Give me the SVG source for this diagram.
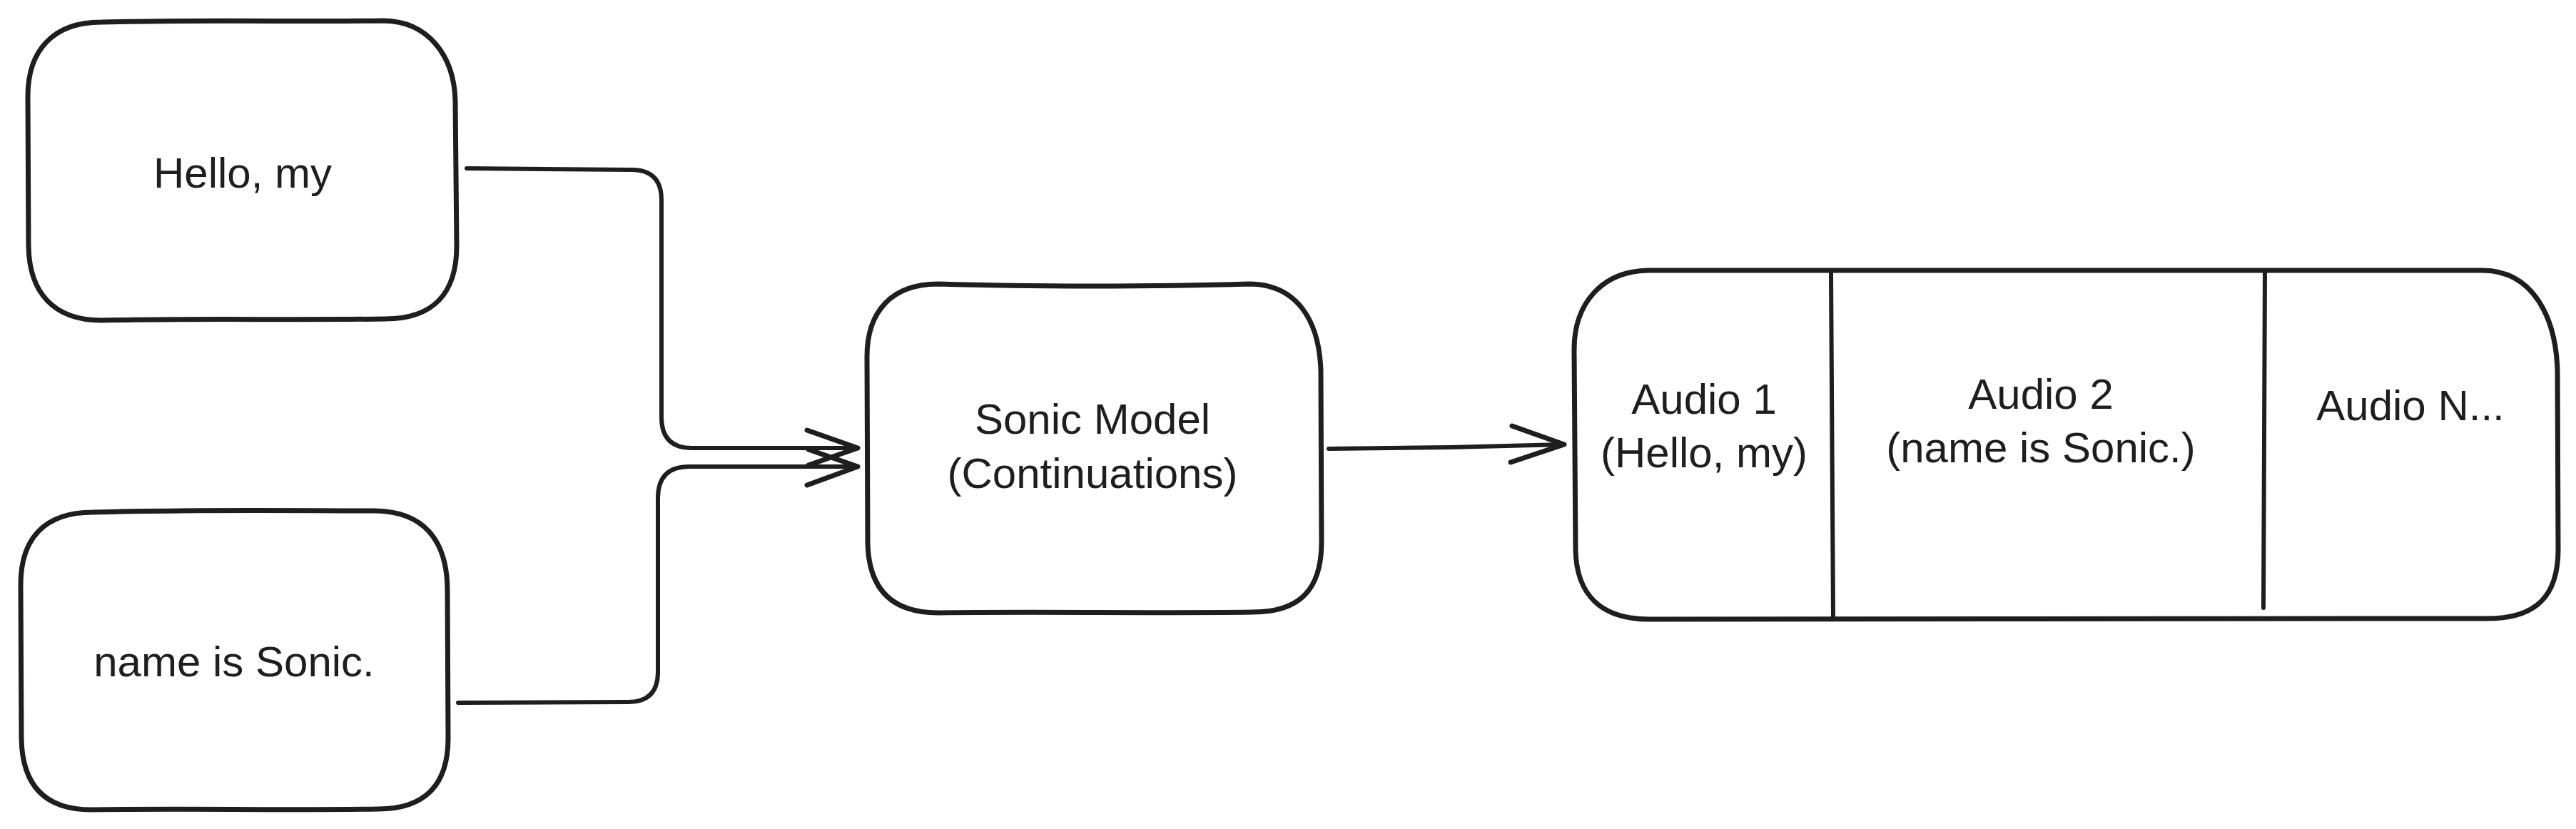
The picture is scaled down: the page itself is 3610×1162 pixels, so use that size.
<svg xmlns="http://www.w3.org/2000/svg" width="3610" height="1162" viewBox="0 0 3610 1162">
<style>
.box{fill:#ffffff;stroke:#1e1e1e;stroke-width:7;stroke-linecap:round;stroke-linejoin:round}
.ln{fill:none;stroke:#1e1e1e;stroke-width:6;stroke-linecap:round;stroke-linejoin:round}
.ah{fill:none;stroke:#1e1e1e;stroke-width:7;stroke-linecap:round;stroke-linejoin:round}
.t{font-family:"Liberation Sans","Noto Sans",sans-serif;font-size:60px;fill:#1e1e1e;text-anchor:middle}
</style>
<rect width="3610" height="1162" fill="#ffffff"/>
<g id="connectors">
<path class="ln" d="M 654 236 L 885 238 Q 927 238 927 280 L 927 585 Q 927 628 970 628 L 1200 628"/>
<path class="ah" d="M 1131 603 L 1202 628 L 1133 652"/>
<path class="ln" d="M 642 985 L 880 984 Q 922 984 922 942 L 922 698 Q 922 654 966 654 L 1200 654"/>
<path class="ah" d="M 1133 630 L 1202 654 L 1131 680"/>
<path class="ln" d="M 1862 629 L 2030 627 L 2190 623"/>
<path class="ah" d="M 2119 597 L 2192 623 L 2117 648"/>
</g>
<g id="node-hello">
<path class="box" d="M 142 31 C 290 27 430 31 538 29 C 600 30 636 78 638 140 L 640 345 C 640 410 608 447 540 447 C 420 449 260 446 142 449 C 75 449 41 410 40 345 L 39 135 C 39 70 75 31 142 31 Z"/>
<text class="t" x="340" y="263">Hello, my</text>
</g>
<g id="node-name">
<path class="box" d="M 130 718 C 260 714 420 716 526 716 C 592 717 626 755 627 825 L 628 1035 C 628 1100 596 1134 530 1134 C 400 1136 250 1133 128 1135 C 62 1135 31 1100 30 1035 L 29 820 C 29 755 62 718 130 718 Z"/>
<text class="t" x="328" y="948">name is Sonic.</text>
</g>
<g id="node-sonic">
<path class="box" d="M 1315 398 C 1450 402 1620 402 1750 398 C 1818 398 1849 450 1851 520 L 1852 760 C 1852 826 1822 858 1755 858 C 1620 860 1450 857 1315 859 C 1250 859 1217 826 1216 760 L 1215 500 C 1215 436 1250 398 1315 398 Z"/>
<text class="t" x="1531" y="608">Sonic Model</text>
<text class="t" x="1531" y="684">(Continuations)</text>
</g>
<g id="node-audio">
<path class="box" d="M 2310 379 C 2600 377 3000 381 3480 379 C 3550 380 3582 445 3584 520 L 3585 770 C 3585 835 3555 867 3485 867 C 3100 869 2700 866 2312 868 C 2245 868 2209 835 2208 770 L 2206 490 C 2206 425 2245 380 2310 379 Z"/>
<path class="ln" d="M 2566 382 L 2569 866"/>
<path class="ln" d="M 3174 381 L 3172 852"/>
<text class="t" x="2388" y="580">Audio 1</text>
<text class="t" x="2388" y="655">(Hello, my)</text>
<text class="t" x="2860" y="573">Audio 2</text>
<text class="t" x="2860" y="648">(name is Sonic.)</text>
<text class="t" x="3378" y="589">Audio N...</text>
</g>
</svg>
